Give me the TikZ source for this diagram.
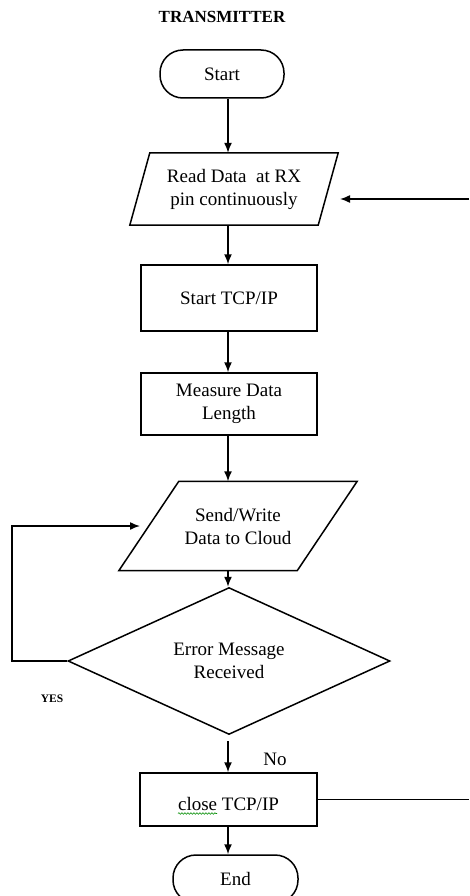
\documentclass[tikz,border=0pt]{standalone}
\usepackage{fontspec}
\setmainfont{Liberation Serif}
\usetikzlibrary{arrows.meta,shapes.geometric,decorations.pathmorphing}

\tikzset{
  texto/.style={font=\fontsize{19}{23}\selectfont, align=center},
  terminal/.style={texto, draw, line width=1.5pt, rounded corners=23pt,
    minimum width=124pt, minimum height=48pt},
  proceso/.style={texto, draw, line width=1.5pt, minimum width=176pt},
  datos/.style={texto, inner sep=0pt},
  decision/.style={texto, draw, line width=1.5pt, diamond,
    minimum width=322pt, minimum height=117pt, inner sep=0pt},
  flecha/.style={-{Latex[length=10pt,width=8pt]}, line width=1.5pt},
  linea/.style={line width=1.5pt, line join=miter}
}

\begin{document}
\begin{tikzpicture}[x=1pt,y=-1pt]
  % Marco de la figura
  \path[use as bounding box, clip] (0,0) rectangle (469,896);

  % Titulo
  \node[font=\bfseries\fontsize{17}{20}\selectfont] (titulo) at (222,17) {TRANSMITTER};

  % Bloques del diagrama
  \node[terminal] (inicio) at (222,74) {Start};
  \node[datos, minimum width=208pt, minimum height=72pt] (leer) at (234,189) {Read Data\ \ at RX\\pin continuously};
  \node[proceso, minimum height=66pt] (tcp) at (229,298) {Start TCP/IP};
  \node[proceso, minimum height=62pt] (medir) at (229,404) {Measure Data\\Length};
  \node[datos, minimum width=238pt, minimum height=89pt] (enviar) at (238,526) {Send/Write\\Data to Cloud};
  \node[decision] (error) at (229,661) {Error Message\\Received};
  \node[proceso, minimum width=177pt, minimum height=53pt, text height=23pt] (cerrar) at (228.5,799.5) {close TCP/IP};
  \node[terminal, minimum width=125pt] (fin) at (235.5,879) {End};

  % Contornos de los paralelogramos
  \draw[linea] ([xshift=20pt]leer.north west) -- (leer.north east)
    -- ([xshift=-20pt]leer.south east) -- (leer.south west) -- cycle;
  \draw[linea] ([xshift=60pt]enviar.north west) -- (enviar.north east)
    -- ([xshift=-60pt]enviar.south east) -- (enviar.south west) -- cycle;

  % Etiquetas de las ramas
  \node[font=\bfseries\fontsize{11.5}{13}\selectfont] (si) at (52,699) {YES};
  \node[texto] (no) at (275,759) {No};

  % Subrayado del corrector
  \draw[decorate, decoration={snake, amplitude=0.8pt, segment length=3pt},
    green!55!black, line width=0.6pt] ([xshift=-50.5pt,yshift=-14pt]cerrar.center) -- ++(39,0);

  % Flechas del eje principal
  \coordinate (eje) at (228,0);
  \draw[flecha] (inicio.south -| eje) -- (leer.north -| eje);
  \draw[flecha] (leer.south -| eje) -- (tcp.north -| eje);
  \draw[flecha] (tcp.south -| eje) -- (medir.north -| eje);
  \draw[flecha] (medir.south -| eje) -- (enviar.north -| eje);
  \draw[flecha] (enviar.south -| eje) -- (error.north -| eje);
  \draw[flecha, shorten <=6pt] (error.south -| eje) -- (cerrar.north -| eje);
  \draw[flecha] (cerrar.south -| eje) -- (fin.north -| eje);

  % Lazo de reintento (YES)
  \coordinate (lazo) at (12,526);
  \coordinate (puntalazo) at (140,526);
  \draw[flecha] (error.west) -| (lazo) -- (puntalazo);

  % Lineas que salen por la derecha
  \coordinate (derarriba) at (469,199);
  \coordinate (puntaleer) at (340,199);
  \draw[flecha] (derarriba) -- (puntaleer);
  \coordinate (derabajo) at (469,0);
  \draw[linea] (cerrar.east) -- (cerrar.east -| derabajo);
\end{tikzpicture}
\end{document}
